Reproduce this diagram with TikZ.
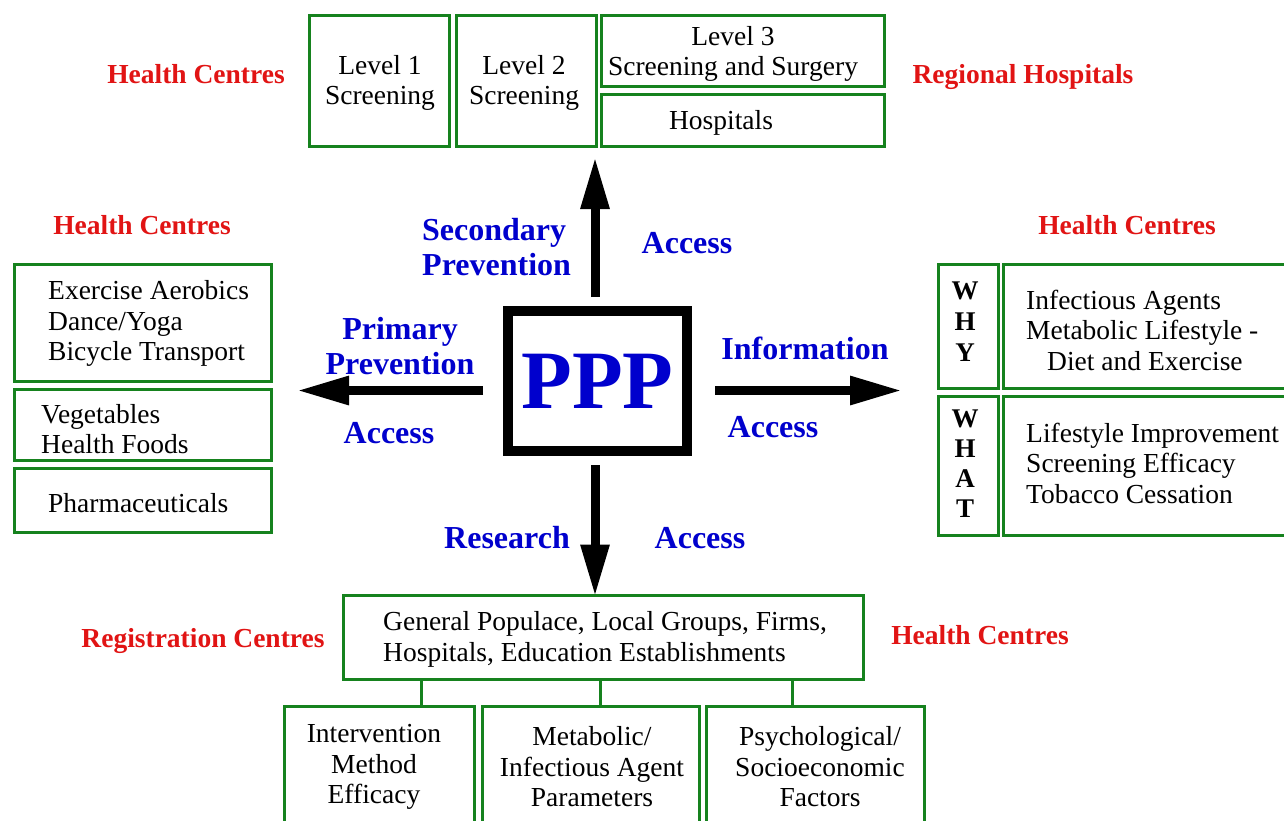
\documentclass[tikz,border=0pt]{standalone}
\usepackage{fontspec}
\setmainfont{Liberation Serif}
\usetikzlibrary{arrows.meta}
\definecolor{gboxc}{RGB}{22,130,30}
\definecolor{lred}{RGB}{225,20,20}
\definecolor{lblue}{RGB}{0,0,205}
\begin{document}
\begin{tikzpicture}[x=1pt,y=-1pt,
  gbox/.style={draw=gboxc, line width=3pt, inner sep=0pt, fill=white},
  btxt/.style={font=\fontsize{27.5}{30.5}\selectfont, inner sep=0pt},
  redlbl/.style={text=lred, font=\bfseries\fontsize{27.5}{30}\selectfont, inner sep=0pt},
  bluelbl/.style={text=lblue, font=\bfseries\fontsize{32}{34.5}\selectfont, inner sep=0pt},
  wlet/.style={font=\bfseries\fontsize{27}{31}\selectfont, inner sep=0pt, align=center},
  bigarrow/.style={line width=9pt, -{Triangle[length=52pt,width=27pt]}},
  gline/.style={draw=gboxc, line width=3pt}]
\useasboundingbox (0,0) rectangle (1284,820);
\clip (0,0) rectangle (1284,820);

% central box
\node[draw=black, line width=10pt, minimum width=179pt, minimum height=140pt, inner sep=0pt,
      text=lblue, font=\bfseries\fontsize{83}{83}\selectfont] (ppp) at (597.5,381) {PPP};

% top boxes
\node[gbox, minimum width=140pt, minimum height=131pt] (l1) at (379,80.5) {};
\node[gbox, minimum width=140pt, minimum height=131pt] (l2) at (526,80.5) {};
\node[gbox, minimum width=283pt, minimum height=71pt] (l3) at (742.5,50.5) {};
\node[gbox, minimum width=283pt, minimum height=52pt] (hosp) at (742.5,120) {};
\node[btxt, align=center] (l1t) at (380,83) {Level 1\\Screening};
\node[btxt, align=center] (l2t) at (524,83) {Level 2\\Screening};
\node[btxt, align=center] (l3t) at (733,54) {Level 3\\Screening and Surgery};
\node[btxt] (hospt) at (721,123) {Hospitals};

% left boxes
\node[gbox, minimum width=257pt, minimum height=117pt] (lb1) at (142.5,322.5) {};
\node[gbox, minimum width=257pt, minimum height=71pt] (lb2) at (142.5,424.5) {};
\node[gbox, minimum width=257pt, minimum height=64pt] (lb3) at (142.5,500) {};
\node[btxt, align=left, anchor=west] (lb1t) at (48,323.5) {Exercise Aerobics\\Dance/Yoga\\Bicycle Transport};
\node[btxt, align=left, anchor=west] (lb2t) at (41,429) {Vegetables\\Health Foods};
\node[btxt, anchor=west] (lb3t) at (48,503) {Pharmaceuticals};

% right boxes
\node[gbox, minimum width=60pt, minimum height=124pt] (why) at (968,326) {};
\node[gbox, minimum width=297pt, minimum height=124pt] (whyt) at (1151.5,326) {};
\node[gbox, minimum width=60pt, minimum height=139pt] (what) at (968,465.5) {};
\node[gbox, minimum width=297pt, minimum height=139pt] (whatt) at (1151.5,465.5) {};
\node[wlet] (whyl) at (965,322) {W\\H\\Y};
\node[wlet, font=\bfseries\fontsize{27}{30}\selectfont] (whatl) at (965,464) {W\\H\\A\\T};
\node[btxt, align=left, anchor=west] (whytx) at (1026,330) {Infectious Agents\\Metabolic Lifestyle -\\\hspace*{21pt}Diet and Exercise};
\node[btxt, align=left, anchor=west] (whattx) at (1026,463) {Lifestyle Improvement\\Screening Efficacy\\Tobacco Cessation};

% bottom boxes
\node[gbox, minimum width=520pt, minimum height=84pt] (bmain) at (603,637) {};
\node[gbox, minimum width=190pt, minimum height=134pt] (b1) at (379,773) {};
\node[gbox, minimum width=217pt, minimum height=134pt] (b2) at (590.5,773) {};
\node[gbox, minimum width=218pt, minimum height=134pt] (b3) at (815,773) {};
\node[btxt, align=left, anchor=west] (bmaint) at (383,639.5) {General Populace, Local Groups, Firms,\\Hospitals, Education Establishments};
\node[btxt, align=center] (b1t) at (374,767) {Intervention\\Method\\Efficacy};
\node[btxt, align=center] (b2t) at (592,767) {Metabolic/\\Infectious Agent\\Parameters};
\node[btxt, align=center] (b3t) at (820,767) {Psychological/\\Socioeconomic\\Factors};
\coordinate (c1) at (421,0);
\coordinate (c2) at (600,0);
\coordinate (c3) at (792,0);
\draw[gline] (bmain.south -| c1) -- (b1.north -| c1);
\draw[gline] (bmain.south -| c2) -- (b2.north -| c2);
\draw[gline] (bmain.south -| c3) -- (b3.north -| c3);

% arrows
\coordinate (vaxis) at (595,0);
\coordinate (haxis) at (0,390.5);
\coordinate (upTip) at (595,157);
\coordinate (leftTip) at (297,390.5);
\coordinate (rightTip) at (902,390.5);
\draw[bigarrow, shorten <=9pt] (ppp.north -| vaxis) -- (upTip);
\draw[bigarrow, shorten <=20pt] (ppp.west |- haxis) -- (leftTip);
\draw[bigarrow, shorten <=23pt] (ppp.east |- haxis) -- (rightTip);
\draw[bigarrow, shorten <=9pt, shorten >=-3pt] (ppp.south -| vaxis) -- (bmain.north -| vaxis);

% red labels
\node[redlbl] (hc1) at (196,74) {Health Centres};
\node[redlbl] (rh) at (1023,77) {Regional Hospitals};
\node[redlbl] (hc2) at (142,225) {Health Centres};
\node[redlbl] (hc3) at (1127,225) {Health Centres};
\node[redlbl] (rc) at (203,641) {Registration Centres};
\node[redlbl] (hc4) at (980,635) {Health Centres};

% blue labels
\node[bluelbl, align=left, anchor=west] (secp) at (422,247) {Secondary\\Prevention};
\node[bluelbl] (acc1) at (687,243) {Access};
\node[bluelbl, align=center] (primp) at (400,346) {Primary\\Prevention};
\node[bluelbl] (acc2) at (389,433) {Access};
\node[bluelbl] (info) at (805,348) {Information};
\node[bluelbl] (acc3) at (773,427) {Access};
\node[bluelbl] (res) at (507,538) {Research};
\node[bluelbl] (acc4) at (700,538) {Access};
\end{tikzpicture}
\end{document}
